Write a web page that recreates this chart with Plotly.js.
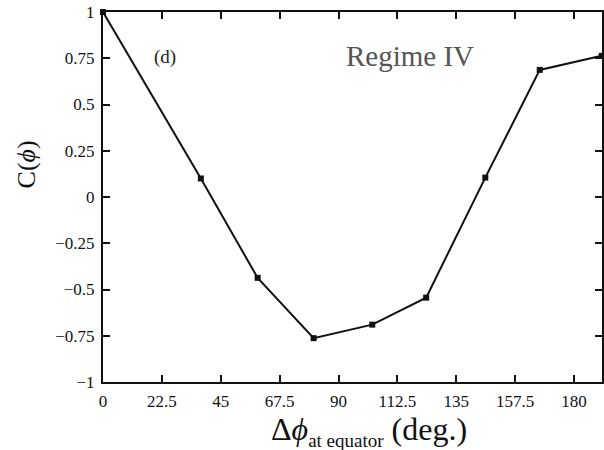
<!DOCTYPE html>
<html>
<head>
<meta charset="utf-8">
<script src="https://cdn.plot.ly/plotly-3.0.1.min.js"></script>
<style>html,body{margin:0;padding:0;background:#fff;}#chart{width:604px;height:450px;}</style>
</head>
<body>
<div id="chart"></div>
<script>
var deltaPhi = [0, 37.4, 59.1, 80.5, 102.9, 123.5, 146.1, 166.9, 190.6];
var corr = [1.0, 0.10, -0.437, -0.763, -0.69, -0.544, 0.105, 0.687, 0.763];
var xTicks = [0, 22.5, 45, 67.5, 90, 112.5, 135, 157.5, 180];
var xTickText = ['0', '22.5', '45', '67.5', '90', '112.5', '135', '157.5', '180'];
var yTicks = [-1, -0.75, -0.5, -0.25, 0, 0.25, 0.5, 0.75, 1];
var yTickText = ['\u22121', '\u22120.75', '\u22120.5', '\u22120.25', '0', '0.25', '0.5', '0.75', '1'];

var font = 'Liberation Serif';
var trace = {
  x: deltaPhi, y: corr, type: 'scatter', mode: 'lines+markers',
  line: {color: '#111', width: 2},
  marker: {color: '#111', size: 6, symbol: 'square'},
  cliponaxis: false, hoverinfo: 'none'
};
var axisCommon = {
  showgrid: false, zeroline: false, showline: true, mirror: 'ticks',
  linecolor: '#111', linewidth: 2, ticks: 'inside', ticklen: 7, tickwidth: 2,
  tickcolor: '#111', tickfont: {family: font, size: 17, color: '#111'},
  ticklabelstandoff: 3
};
var layout = {
  width: 604, height: 450,
  font: {family: font, color: '#111'},
  margin: {l: 103, r: 2, t: 12, b: 68},
  paper_bgcolor: '#fff', plot_bgcolor: '#fff',
  showlegend: false,
  xaxis: Object.assign({}, axisCommon, {
    range: [0, 190.7], tickmode: 'array', tickvals: xTicks, ticktext: xTickText
  }),
  yaxis: Object.assign({}, axisCommon, {
    range: [-1, 1], tickmode: 'array', tickvals: yTicks, ticktext: yTickText
  }),
  annotations: [
    {text: '(d)', x: 0.124, y: 0.879, xref: 'paper', yref: 'paper', showarrow: false,
     xanchor: 'center', yanchor: 'middle', font: {family: font, size: 19, color: '#222'}},
    {text: 'Regime IV', x: 0.615, y: 0.88, xref: 'paper', yref: 'paper', showarrow: false,
     xanchor: 'center', yanchor: 'middle', font: {family: font, size: 29, color: '#555'}},
    {text: '\u0394<i>\u03d5</i><sub><span style="font-size:19px">at equator</span></sub> (deg.)',
     x: 0.533, y: -0.074, xref: 'paper', yref: 'paper', showarrow: false,
     xanchor: 'center', yanchor: 'top', font: {family: font, size: 32, color: '#111'}},
    {text: 'C(<i>\u03d5</i>)', x: -0.153, y: 0.587, xref: 'paper', yref: 'paper', showarrow: false,
     textangle: -90, xanchor: 'center', yanchor: 'middle', font: {family: font, size: 26, color: '#111'}}
  ]
};
Plotly.newPlot('chart', [trace], layout, {staticPlot: true});
</script>
</body>
</html>
